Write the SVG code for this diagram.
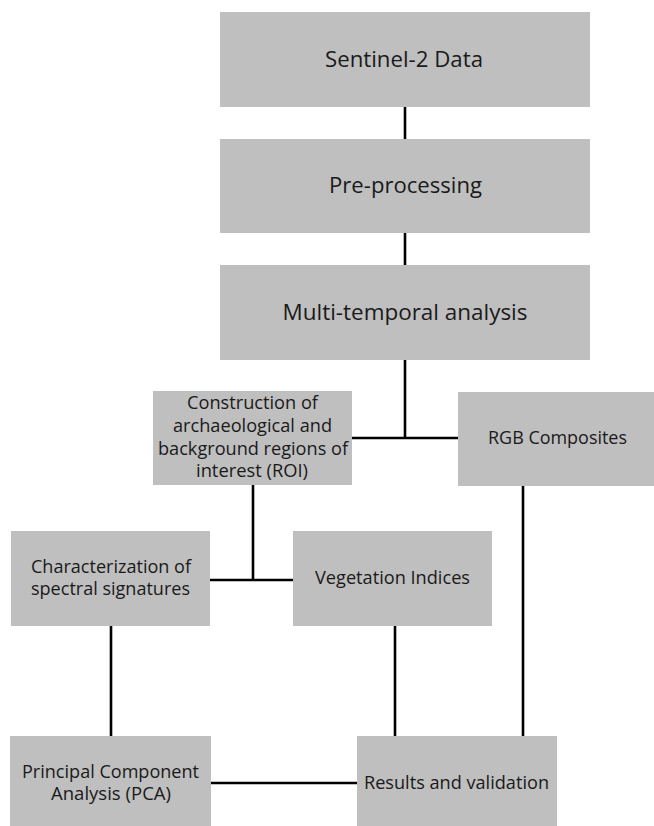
<svg xmlns="http://www.w3.org/2000/svg" width="654" height="826" viewBox="0 0 654 826">
<style>
.box{fill:#bfbfbf;}
.t{font-family:"Open Sans","Liberation Sans",sans-serif;fill:#1a1a1a;text-anchor:middle;}
.L{font-size:21px;}
.S{font-size:18px;}
.c{stroke:#000;stroke-width:2.6;fill:none;}
</style>
<rect width="654" height="826" fill="#fff"/>
<g id="connectors">
<path class="c" d="M405,107V139"/>
<path class="c" d="M405,233V265"/>
<path class="c" d="M405,360V438M352,438H458"/>
<path class="c" d="M253,485V580M210,580H293"/>
<path class="c" d="M111,626V736"/>
<path class="c" d="M395,626V736"/>
<path class="c" d="M523,486V736"/>
<path class="c" d="M211,783H357"/>
</g>
<g id="sentinel">
<rect class="box" x="220" y="12" width="370" height="95"/>
<text class="t L" x="404" y="67" textLength="158" lengthAdjust="spacingAndGlyphs">Sentinel-2 Data</text>
</g>
<g id="preprocessing">
<rect class="box" x="220" y="139" width="370" height="94"/>
<text class="t L" x="405.5" y="193" textLength="153" lengthAdjust="spacingAndGlyphs">Pre-processing</text>
</g>
<g id="multitemporal">
<rect class="box" x="220" y="265" width="370" height="95"/>
<text class="t L" x="405" y="320" textLength="245" lengthAdjust="spacingAndGlyphs">Multi-temporal analysis</text>
</g>
<g id="roi">
<rect class="box" x="153" y="391" width="199" height="94"/>
<text class="t S" x="252.5" y="409" textLength="131" lengthAdjust="spacingAndGlyphs">Construction of</text>
<text class="t S" x="252.5" y="432" textLength="159" lengthAdjust="spacingAndGlyphs">archaeological and</text>
<text class="t S" x="253" y="455" textLength="190" lengthAdjust="spacingAndGlyphs">background regions of</text>
<text class="t S" x="252" y="477" textLength="112" lengthAdjust="spacingAndGlyphs">interest (ROI)</text>
</g>
<g id="rgb">
<rect class="box" x="458" y="392" width="196" height="94"/>
<text class="t S" x="557.5" y="444" textLength="139" lengthAdjust="spacingAndGlyphs">RGB Composites</text>
</g>
<g id="characterization">
<rect class="box" x="11" y="531" width="199" height="95"/>
<text class="t S" x="111" y="573" textLength="160" lengthAdjust="spacingAndGlyphs">Characterization of</text>
<text class="t S" x="110.5" y="595" textLength="159" lengthAdjust="spacingAndGlyphs">spectral signatures</text>
</g>
<g id="vegetation">
<rect class="box" x="293" y="531" width="199" height="95"/>
<text class="t S" x="392.5" y="584" textLength="155" lengthAdjust="spacingAndGlyphs">Vegetation Indices</text>
</g>
<g id="pca">
<rect class="box" x="10" y="736" width="201" height="90"/>
<text class="t S" x="110.5" y="778" textLength="177" lengthAdjust="spacingAndGlyphs">Principal Component</text>
<text class="t S" x="111" y="800" textLength="120" lengthAdjust="spacingAndGlyphs">Analysis (PCA)</text>
</g>
<g id="results">
<rect class="box" x="357" y="736" width="200" height="90"/>
<text class="t S" x="456.5" y="789" textLength="185" lengthAdjust="spacingAndGlyphs">Results and validation</text>
</g>
</svg>
